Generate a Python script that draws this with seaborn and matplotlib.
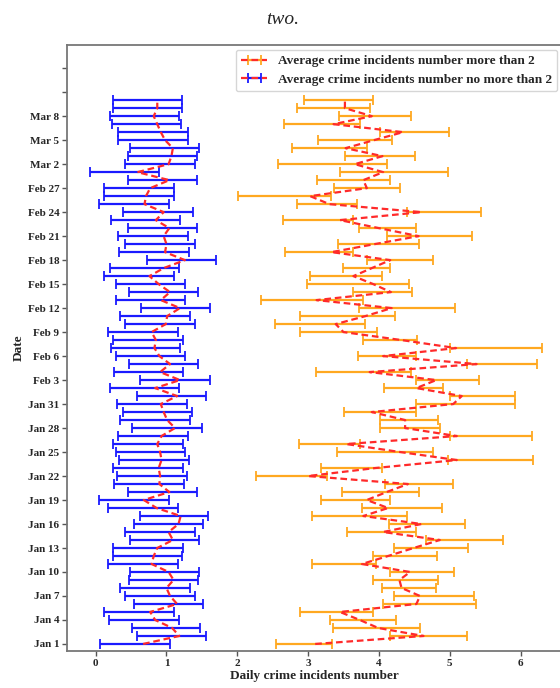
import numpy as np
import pandas as pd
import matplotlib
matplotlib.use("Agg")
import matplotlib.pyplot as plt
import seaborn as sns

# days since Jan 1 (Jan 1 .. Mar 10)
dates = pd.date_range("2021-01-01", periods=69)
days = np.arange(len(dates))

# "no more than 2" group: bar ends and mean line
blue_low = [0.06, 0.59, 0.51, 0.19, 0.12, 0.54, 0.42, 0.35, 0.47, 0.49,
            0.18, 0.24, 0.25, 0.49, 0.42, 0.54, 0.62, 0.18, 0.05, 0.45,
            0.26, 0.30, 0.25, 0.33, 0.29, 0.25, 0.31, 0.52, 0.35, 0.38,
            0.30, 0.58, 0.20, 0.63, 0.26, 0.47, 0.29, 0.22, 0.25, 0.18,
            0.42, 0.35, 0.64, 0.29, 0.47, 0.29, 0.12, 0.20, 0.72, 0.33,
            0.42, 0.31, 0.45, 0.21, 0.38, 0.05, 0.12, 0.12, 0.45, -0.08,
            0.42, 0.45, 0.49, 0.31, 0.31, 0.23, 0.20, 0.25, 0.25]
blue_high = [1.05, 1.56, 1.48, 1.17, 1.10, 1.52, 1.40, 1.33, 1.45, 1.46,
             1.16, 1.22, 1.23, 1.46, 1.40, 1.51, 1.59, 1.16, 1.03, 1.43,
             1.25, 1.29, 1.23, 1.32, 1.26, 1.23, 1.30, 1.50, 1.33, 1.36,
             1.29, 1.56, 1.18, 1.61, 1.24, 1.44, 1.26, 1.19, 1.23, 1.16,
             1.40, 1.33, 1.61, 1.26, 1.45, 1.26, 1.10, 1.18, 1.70, 1.32,
             1.40, 1.30, 1.43, 1.19, 1.37, 1.03, 1.10, 1.10, 1.43, 0.90,
             1.40, 1.43, 1.46, 1.30, 1.30, 1.21, 1.17, 1.22, 1.22]
blue_mean = [0.67, 1.18, 1.08, 0.84, 0.77, 1.15, 1.05, 1.00, 1.10, 1.03,
             0.79, 0.82, 0.87, 1.09, 1.03, 1.17, 1.20, 0.86, 0.68, 1.04,
             0.90, 0.91, 0.89, 0.93, 0.91, 0.87, 0.93, 1.12, 1.01, 0.96,
             0.92, 1.15, 0.84, 1.19, 0.91, 1.05, 0.90, 0.83, 0.85, 0.79,
             0.99, 1.01, 1.19, 0.92, 1.05, 0.89, 0.76, 0.96, 1.26, 0.98,
             1.00, 0.96, 1.04, 0.85, 0.96, 0.69, 0.71, 0.77, 1.04, 0.59,
             1.03, 1.07, 1.09, 0.98, 0.92, 0.87, 0.82, 0.87, 0.87]

# "more than 2" group
orange_low = [2.55, 4.15, 3.35, 3.31, 2.88, 4.06, 4.21, 4.04, 3.91, 4.16,
              3.05, 3.91, 4.21, 4.67, 3.55, 4.14, 3.06, 3.76, 3.18, 3.48,
              4.09, 2.27, 3.18, 4.98, 3.41, 2.87, 5.00, 4.02, 4.02, 3.51,
              4.53, 5.00, 4.07, 4.53, 3.11, 5.24, 3.71, 5.00, 3.77, 2.89,
              2.53, 2.89, 3.72, 2.33, 3.64, 2.99, 3.03, 3.50, 3.83, 2.67,
              3.42, 4.11, 3.72, 2.65, 4.39, 2.85, 2.01, 3.36, 3.12, 3.45,
              2.58, 3.52, 2.77, 3.14, 4.01, 2.66, 3.43, 2.84, 2.94]
orange_high = [3.34, 5.25, 4.58, 4.24, 3.91, 5.37, 5.34, 4.81, 4.84, 5.06,
               3.96, 4.82, 5.26, 5.75, 4.52, 5.21, 4.40, 4.89, 4.16, 4.57,
               5.04, 3.26, 4.05, 6.17, 4.77, 3.73, 6.16, 4.86, 4.84, 4.53,
               5.92, 5.92, 4.90, 5.41, 4.46, 6.23, 4.53, 6.31, 4.54, 3.97,
               3.80, 4.23, 5.07, 3.78, 4.47, 4.43, 4.04, 4.15, 4.76, 3.64,
               4.56, 5.32, 4.53, 3.64, 5.44, 3.69, 3.33, 4.30, 4.15, 4.97,
               4.11, 4.51, 3.83, 4.18, 4.99, 3.73, 4.45, 3.87, 3.92]
orange_mean = [3.10, 4.63, 3.99, 3.73, 3.45, 4.53, 4.58, 4.32, 4.29, 4.44,
               3.76, 4.13, 4.49, 4.86, 4.06, 4.60, 3.78, 4.13, 3.83, 4.11,
               4.41, 3.00, 3.95, 5.10, 4.30, 3.54, 5.10, 4.37, 4.37, 3.90,
               5.05, 5.17, 4.53, 4.81, 3.87, 5.38, 4.06, 5.09, 4.32, 3.50,
               3.39, 3.81, 4.18, 3.12, 4.17, 3.92, 3.64, 3.90, 4.16, 3.33,
               3.94, 4.56, 4.00, 3.45, 4.60, 3.30, 3.03, 3.83, 3.78, 4.06,
               3.66, 4.05, 3.53, 3.93, 4.34, 3.36, 3.90, 3.52, 3.52]

tick_days = list(range(0, 73, 3))
tick_labels = [f"{d:%b} {d.day}" if i < len(dates) else ""
               for i, d in zip(tick_days, pd.date_range("2021-01-01", periods=73)[tick_days])]

sns.set_theme(style="ticks")
plt.rcParams['font.family'] = ['Liberation Serif', 'DejaVu Serif']
plt.rcParams['font.weight'] = 'bold'

fig = plt.figure(figsize=(5.6, 6.88), dpi=100)
ax = fig.add_axes([67 / 560, 1 - 651 / 688, 495 / 560, 606 / 688])

om = np.array(orange_mean)
bm = np.array(blue_mean)
ax.errorbar(om, days, xerr=[om - np.array(orange_low), np.array(orange_high) - om],
            fmt='--', color='#ff2a2a', ecolor='#ffa820', lw=1.6, elinewidth=1.6,
            capsize=3.5, capthick=1.3, dashes=(3.0, 1.7),
            label='Average crime incidents number more than 2')
ax.errorbar(bm, days, xerr=[bm - np.array(blue_low), np.array(blue_high) - bm],
            fmt='--', color='#ff2a2a', ecolor='#1a1aff', lw=1.6, elinewidth=1.6,
            capsize=3.5, capthick=1.3, dashes=(3.0, 1.7),
            label='Average crime incidents number no more than 2')

ax.set_xlim(-0.405, 6.586)
ax.set_ylim(-0.88, 74.9)
ax.set_xticks(range(0, 7))
ax.set_yticks(tick_days)
ax.set_yticklabels(tick_labels)
ax.tick_params(labelsize=8, length=3.5, width=1, color='#555555', pad=2)
for s in ax.spines.values():
    s.set_color('#777777')
    s.set_linewidth(1.3)

ax.set_xlabel("Daily crime incidents number", fontsize=9.5, fontweight='bold', labelpad=2)
ax.set_ylabel("Date", fontsize=9.5, fontweight='bold', labelpad=2)

ax.legend(loc='upper right', prop={'weight': 'bold', 'size': 9.5},
          borderaxespad=0.35, frameon=True, edgecolor='#cccccc', fancybox=True)

fig.text(0.505, 1 - 19 / 688, "two.", style='italic', fontweight='normal',
         fontsize=14, ha='center', va='center')

fig.savefig("out.png", dpi=100)
